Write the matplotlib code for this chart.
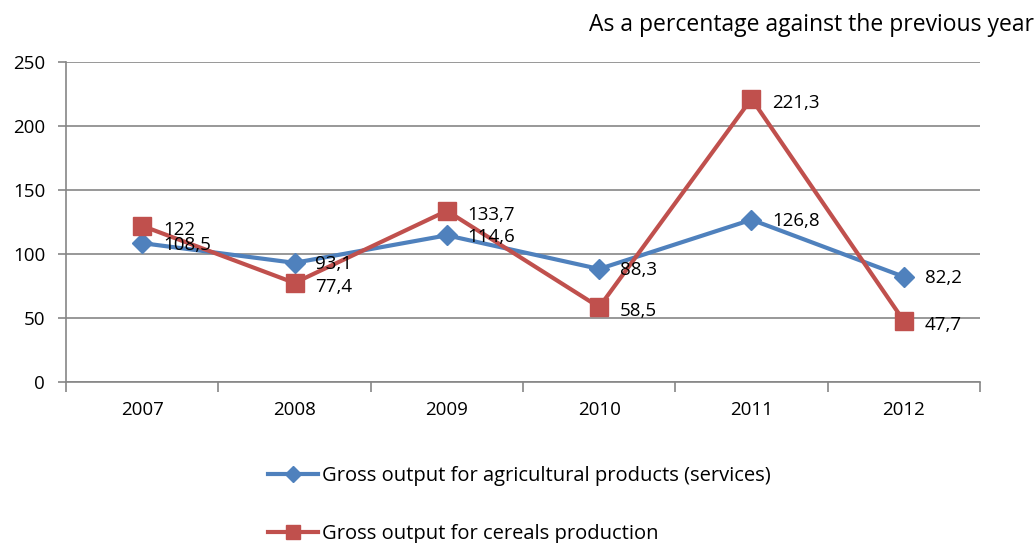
import numpy as np
import matplotlib.pyplot as plt

plt.rcParams['font.family'] = ['Open Sans', 'DejaVu Sans']

years = ['2007', '2008', '2009', '2010', '2011', '2012']
agri = [108.5, 93.1, 114.6, 88.3, 126.8, 82.2]
cereals = [122, 77.4, 133.7, 58.5, 221.3, 47.7]
agri_label = 'Gross output for agricultural products (services)'
cereals_label = 'Gross output for cereals production'

blue = '#4F81BD'
red = '#C0504D'
grey = '#868686'

fig = plt.figure(figsize=(10.34, 5.43), dpi=100)
ax = fig.add_axes([66 / 1034, 1 - 382 / 543, (980 - 66) / 1034, 320 / 543])

x = np.arange(len(years))
l1, = ax.plot(x, agri, color=blue, lw=3, marker='D', ms=10, label=agri_label, zorder=3)
l2, = ax.plot(x, cereals, color=red, lw=3, marker='s', ms=12.5, label=cereals_label, zorder=4)

def fmt(v):
    return ('%g' % v).replace('.', ',')

for xi, v in zip(x, agri):
    ax.annotate(fmt(v), (xi, v), xytext=(15, -1), textcoords='offset points',
                ha='left', va='center', fontsize=13.5, color='black', zorder=5)
for xi, v in zip(x, cereals):
    ax.annotate(fmt(v), (xi, v), xytext=(15, -3), textcoords='offset points',
                ha='left', va='center', fontsize=13.5, color='black', zorder=5)

ax.set_xlim(-0.5, len(years) - 0.5)
ax.set_ylim(0, 250)
ax.set_yticks(range(0, 251, 50))
ax.set_xticks(x)
ax.set_xticklabels(years)
ax.set_xticks(np.arange(-0.5, len(years)), minor=True)
ax.tick_params(axis='x', which='major', length=0, pad=14, labelsize=13.5)
ax.tick_params(axis='x', which='minor', length=7, color=grey, width=1.2)
ax.tick_params(axis='y', length=6, color=grey, width=1.2, labelsize=13.5, pad=9)
ax.grid(axis='y', color=grey, lw=1.2)
ax.set_axisbelow(True)
for side in ['top', 'right']:
    ax.spines[side].set_visible(False)
for side in ['left', 'bottom']:
    ax.spines[side].set_color(grey)
    ax.spines[side].set_linewidth(1.2)

fig.text(1034 / 1034, 1 - 25 / 543, 'As a percentage against the previous year',
         ha='right', va='center', fontsize=16.5)

fig.legend(handles=[l1, l2], loc='upper left', bbox_to_anchor=(250 / 1034, 1 - 448 / 543),
           frameon=False, fontsize=14.5, handlelength=2.5, handletextpad=0.2,
           labelspacing=1.9, markerscale=0.8)

fig.savefig('out.png', dpi=100)
